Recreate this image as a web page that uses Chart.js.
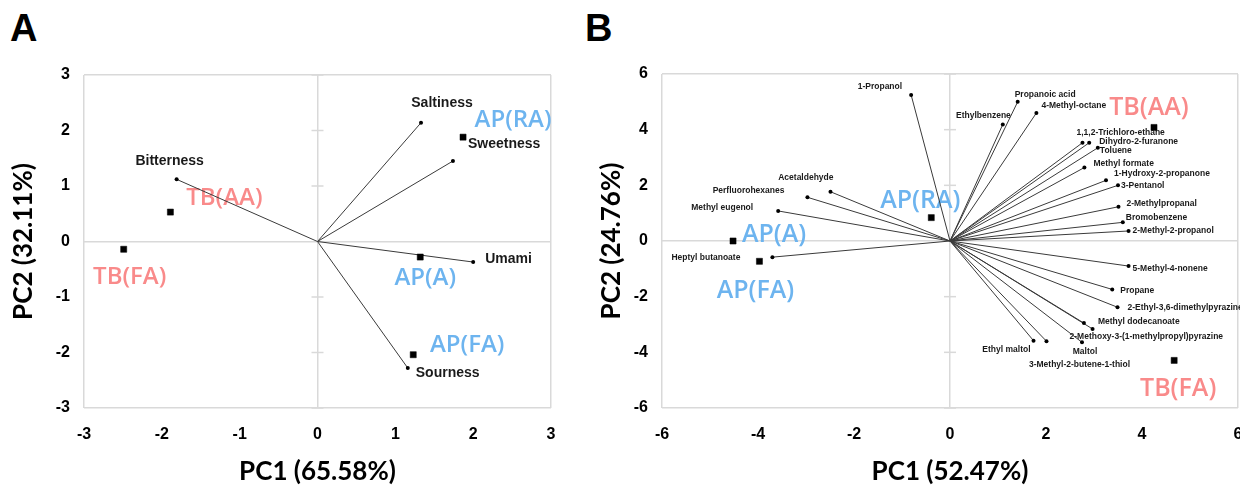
<!DOCTYPE html>
<html>
<head>
<meta charset="utf-8">
<script src="https://cdn.jsdelivr.net/npm/chart.js@4.4.0/dist/chart.umd.min.js"></script>
<style>
    html, body { margin: 0; padding: 0; background: #fff; overflow: hidden; width: 1240px; height: 487px; }
    .panel { position: absolute; top: 0; height: 487px; }
    .tag { position: absolute; font: bold 38px "Liberation Sans", Arial, sans-serif; line-height: 1; color: #000; }
</style>
</head>
<body>
<div class="tag" style="left:10px;top:9px">A</div>
<div class="tag" style="left:585px;top:9px">B</div>
<div class="panel" style="left:0;width:600px"><canvas id="chartA"></canvas></div>
<div class="panel" style="left:590px;width:700px"><canvas id="chartB"></canvas></div>

<script>
// ---- panel A : taste attributes ----
let tasteNames = ['Saltiness', 'Sweetness', 'Bitterness', 'Umami', 'Sourness'];
let tastePC1 = [1.33, 1.74, -1.81, 2.00, 1.16];
let tastePC2 = [2.14, 1.45, 1.12, -0.37, -2.28];

let samplesA = ['AP(RA)', 'TB(AA)', 'TB(FA)', 'AP(A)', 'AP(FA)'];
let samplesA_PC1 = [1.87, -1.89, -2.49, 1.32, 1.23];
let samplesA_PC2 = [1.88, 0.53, -0.14, -0.28, -2.04];

let ticksA = [-3, -2, -1, 0, 1, 2, 3];

// ---- panel B : volatile compounds ----
let volatileNames = [
    '1-Propanol', 'Propanoic acid', 'Ethylbenzene', '4-Methyl-octane',
    '1,1,2-Trichloro-ethane', 'Dihydro-2-furanone', 'Toluene', 'Methyl formate',
    '1-Hydroxy-2-propanone', '3-Pentanol', '2-Methylpropanal', 'Bromobenzene',
    '2-Methyl-2-propanol', 'Acetaldehyde', 'Perfluorohexanes', 'Methyl eugenol',
    'Heptyl butanoate', '5-Methyl-4-nonene', 'Propane', '2-Ethyl-3,6-dimethylpyrazine',
    'Methyl dodecanoate', '2-Methoxy-3-(1-methylpropyl)pyrazine', 'Maltol', 'Ethyl maltol',
    '3-Methyl-2-butene-1-thiol'
];
let volatilePC1 = [
    -0.81, 1.41, 1.10, 1.80,
    2.76, 2.90, 3.08, 2.80,
    3.25, 3.50, 3.51, 3.60,
    3.72, -2.49, -2.97, -3.58,
    -3.70, 3.72, 3.38, 3.49,
    2.79, 2.97, 2.75, 1.74,
    2.01
];
let volatilePC2 = [
    5.25, 5.00, 4.19, 4.60,
    3.53, 3.53, 3.35, 2.64,
    2.18, 2.00, 1.23, 0.67,
    0.36, 1.77, 1.57, 1.08,
    -0.58, -0.90, -1.74, -2.38,
    -2.95, -3.16, -3.64, -3.58,
    -3.60
];

let samplesB = ['TB(AA)', 'TB(FA)', 'AP(RA)', 'AP(A)', 'AP(FA)'];
let samplesB_PC1 = [4.25, 4.67, -0.39, -4.52, -3.97];
let samplesB_PC2 = [4.08, -4.29, 0.84, 0.00, -0.73];

let ticksB = [-6, -4, -2, 0, 2, 4, 6];

// label placement (pixel offset from the mark, text align)
let tasteLabelPos = [[21, -20, 'center'], [15, -17, 'left'], [-7, -18, 'center'], [12, -3, 'left'], [8, 5, 'left']];
let samplesALabelPos = [[50, -17, 'center'], [54, -14, 'center'], [6, 28, 'center'], [5, 21, 'center'], [54, -10, 'center']];
let volatileLabelPos = [
    [-9, -8, 'right'], [-3, -7, 'left'], [8, -9, 'right'], [5, -7, 'left'],
    [-6, -10, 'left'], [10, -1, 'left'], [2, 3, 'left'], [9, -4, 'left'],
    [8, -7, 'left'], [3, 0, 'left'], [8, -3, 'left'], [3, -5, 'left'],
    [4, 0, 'left'], [3, -14, 'right'], [-23, -7, 'right'], [-25, -3, 'right'],
    [-32, 1, 'right'], [4, 3, 'left'], [8, 1, 'left'], [10, 0, 'left'],
    [14, -1, 'left'], [-23, 8, 'left'], [3, 9, 'center'], [-3, 9, 'right'],
    [33, 23, 'center']
];
let samplesBLabelPos = [[-5, -20, 'center'], [4, 28, 'center'], [-11, -17, 'center'], [41, -6, 'center'], [-4, 30, 'center']];

const PINK = '#f98a8a';
const BLUE = '#6db4ef';
function sampleColors(names) {
    return names.map(n => n.startsWith('TB') ? PINK : BLUE);
}

// vectors from origin, separated by gaps
function vectorData(xs, ys) {
    let out = [];
    xs.forEach((x, i) => {
        out.push({ x: 0, y: 0 });
        out.push({ x: x, y: ys[i], tip: true });
        out.push({ x: null, y: null });
    });
    return out;
}

const pointLabels = {
    id: 'pointLabels',
    beforeDatasetsDraw(chart, args, opts) {
        const ctx = chart.ctx;
        const xs = chart.scales.x, ys = chart.scales.y;
        ctx.save();
        ctx.textBaseline = 'middle';
        (opts.groups || []).forEach(g => {
            ctx.font = g.font;
            g.names.forEach((name, i) => {
                const p = g.pos[i];
                ctx.textAlign = p[2];
                ctx.fillStyle = Array.isArray(g.color) ? g.color[i] : g.color;
                ctx.fillText(name, xs.getPixelForValue(g.xs[i]) + p[0], ys.getPixelForValue(g.ys[i]) + p[1]);
            });
        });
        ctx.restore();
    }
};

// little cross ticks along the vertical zero line
const zeroTicks = {
    id: 'zeroTicks',
    beforeDatasetsDraw(chart) {
        const { ctx, scales: { x, y } } = chart;
        const x0 = x.getPixelForValue(0);
        ctx.save();
        ctx.strokeStyle = '#d9d9d9';
        ctx.lineWidth = 1.5;
        y.ticks.forEach(t => {
            if (t.value === 0) return;
            const py = y.getPixelForValue(t.value);
            ctx.beginPath();
            ctx.moveTo(x0 - 6, py);
            ctx.lineTo(x0 + 6, py);
            ctx.stroke();
        });
        ctx.restore();
    }
};

function makeChart(id, cfg) {
    const lim = cfg.ticks[cfg.ticks.length - 1];
    const gridColor = c => (c.tick && [-lim, 0, lim].includes(c.tick.value)) ? '#d9d9d9' : 'rgba(0,0,0,0)';
    const tickFont = { family: '"Liberation Sans", Arial, sans-serif', size: 16, weight: 'bold' };
    const titleFont = { family: 'Lato, "Open Sans", sans-serif', size: 26, weight: 'bold' };

    return new Chart(document.getElementById(id), {
        type: 'scatter',
        data: {
            datasets: [
                {
                    data: vectorData(cfg.vx, cfg.vy),
                    showLine: true,
                    spanGaps: false,
                    borderColor: '#3a3a3a',
                    borderWidth: 1,
                    pointRadius: c => (c.raw && c.raw.tip) ? 2 : 0,
                    pointBackgroundColor: '#000',
                    pointBorderWidth: 0,
                    order: 2
                },
                {
                    data: cfg.sx.map((x, i) => ({ x: x, y: cfg.sy[i] })),
                    pointStyle: 'rect',
                    pointRadius: 4.3,
                    pointBackgroundColor: '#000',
                    pointBorderColor: '#000',
                    pointBorderWidth: 0.5,
                    order: 1
                }
            ]
        },
        options: {
            responsive: true,
            maintainAspectRatio: false,
            animation: false,
            layout: { padding: { left: 0, top: cfg.top, right: cfg.right, bottom: 0 } },
            plugins: {
                legend: { display: false },
                tooltip: { enabled: false },
                pointLabels: {
                    groups: [
                        { names: cfg.vnames, xs: cfg.vx, ys: cfg.vy, pos: cfg.vpos, font: cfg.vfont, color: '#1a1a1a' },
                        { names: cfg.snames, xs: cfg.sx, ys: cfg.sy, pos: cfg.spos, font: cfg.sfont, color: sampleColors(cfg.snames) }
                    ]
                }
            },
            scales: {
                x: {
                    type: 'linear',
                    min: -lim, max: lim,
                    afterBuildTicks: s => { s.ticks = cfg.ticks.map(v => ({ value: v })); },
                    afterFit: s => { s.height = cfg.xAxisHeight; },
                    grid: { drawTicks: false, color: gridColor, lineWidth: 1.5 },
                    border: { display: false },
                    ticks: { font: tickFont, color: '#000', padding: 17, maxRotation: 0 },
                    title: { display: true, text: cfg.xTitle, font: titleFont, color: '#000', padding: { top: 0, bottom: 0 } }
                },
                y: {
                    type: 'linear',
                    min: -lim, max: lim,
                    afterBuildTicks: s => { s.ticks = cfg.ticks.map(v => ({ value: v })); },
                    afterFit: s => { s.width = cfg.yAxisWidth; },
                    grid: { drawTicks: false, color: gridColor, lineWidth: 1.5 },
                    border: { display: false },
                    ticks: { font: tickFont, color: '#000', padding: 14 },
                    title: { display: true, text: cfg.yTitle, font: titleFont, color: '#000', padding: { top: cfg.yTitlePad, bottom: 0 } }
                }
            }
        },
        plugins: [zeroTicks, pointLabels]
    });
}

makeChart('chartA', {
    ticks: ticksA,
    vnames: tasteNames, vx: tastePC1, vy: tastePC2, vpos: tasteLabelPos,
    vfont: 'bold 14px "Liberation Sans", Arial, sans-serif',
    snames: samplesA, sx: samplesA_PC1, sy: samplesA_PC2, spos: samplesALabelPos,
    sfont: '600 24px "Open Sans", Lato, sans-serif',
    xTitle: 'PC1 (65.58%)', yTitle: 'PC2 (32.11%)',
    top: 75, right: 49, xAxisHeight: 79, yAxisWidth: 84, yTitlePad: 8
});

makeChart('chartB', {
    ticks: ticksB,
    vnames: volatileNames, vx: volatilePC1, vy: volatilePC2, vpos: volatileLabelPos,
    vfont: 'bold 8.5px "Liberation Sans", Arial, sans-serif',
    snames: samplesB, sx: samplesB_PC1, sy: samplesB_PC2, spos: samplesBLabelPos,
    sfont: '600 25px "Open Sans", Lato, sans-serif',
    xTitle: 'PC1 (52.47%)', yTitle: 'PC2 (24.76%)',
    top: 74, right: 52, xAxisHeight: 79, yAxisWidth: 72, yTitlePad: 6
});
</script>
</body>
</html>
